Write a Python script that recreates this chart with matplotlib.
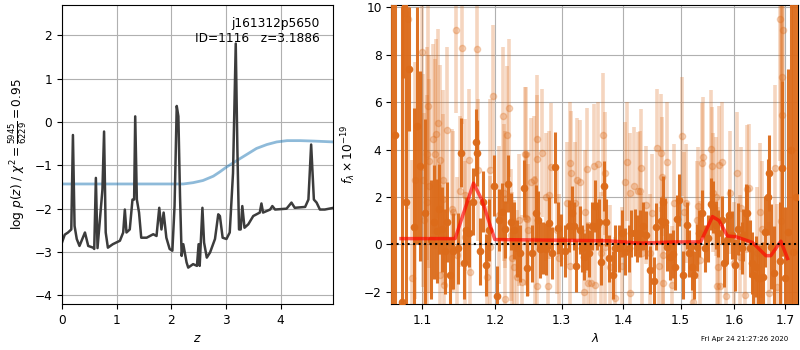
import matplotlib
matplotlib.use("Agg")
import matplotlib.pyplot as plt
import numpy as np
from matplotlib.ticker import FixedLocator, FixedFormatter, NullLocator, NullFormatter

plt.rcParams['font.size'] = 8.7

# ---------------- left panel data ----------------
z_grid = [0.00, 0.05, 0.11, 0.17, 0.20, 0.23, 0.27, 0.32, 0.42, 0.48, 0.57, 0.59, 0.62, 0.65,
          0.74, 0.77, 0.80, 0.84, 0.93, 1.06, 1.12, 1.15, 1.18, 1.24, 1.29, 1.32, 1.34, 1.37,
          1.41, 1.45, 1.55, 1.67, 1.73, 1.78, 1.82, 1.86, 1.91, 1.97, 2.02, 2.06, 2.10, 2.13,
          2.16, 2.19, 2.22, 2.28, 2.31, 2.40, 2.47, 2.50, 2.52, 2.57, 2.60, 2.65, 2.71, 2.80,
          2.86, 2.89, 2.94, 3.01, 3.07, 3.13, 3.18, 3.21, 3.24, 3.27, 3.30, 3.34, 3.41, 3.50,
          3.62, 3.65, 3.68, 3.81, 3.85, 3.90, 4.11, 4.20, 4.26, 4.45, 4.51, 4.56, 4.61, 4.66,
          4.72, 4.81, 4.97]
logpz = [-2.78, -2.60, -2.55, -2.48, -0.30, -2.40, -2.70, -2.86, -2.55, -2.86, -2.90, -2.93, -1.29, -2.91,
         -1.56, -0.22, -2.55, -2.90, -2.82, -2.74, -2.55, -2.02, -2.55, -2.48, -1.79, -1.79, 0.13, -1.79,
         -2.09, -2.67, -2.67, -2.59, -2.63, -1.98, -2.48, -2.09, -2.67, -2.93, -2.97, -1.94, 0.37, 0.13,
         -1.71, -3.09, -2.82, -3.24, -3.36, -3.28, -3.32, -2.82, -3.32, -1.98, -2.78, -3.13, -3.01, -2.70,
         -2.13, -2.17, -2.67, -2.70, -2.55, -1.18, 1.81, -0.64, -2.48, -2.48, -1.94, -2.44, -2.36, -2.17,
         -2.09, -1.88, -2.09, -2.02, -1.94, -2.02, -2.00, -1.86, -1.98, -1.96, -1.79, -0.52, -1.79, -1.86,
         -2.02, -2.02, -1.98]

z_prior = [0.00, 2.22, 2.40, 2.58, 2.77, 2.89, 3.01, 3.20, 3.38, 3.56, 3.75, 3.93, 4.12, 4.36, 4.60, 4.97]
prior = [-1.43, -1.43, -1.40, -1.35, -1.25, -1.15, -1.04, -0.89, -0.75, -0.61, -0.52, -0.46, -0.43, -0.43, -0.44, -0.46]

# ---------------- right panel data ----------------
wave_dark = [1.0601, 1.0644, 1.0730, 1.0751, 1.0785, 1.0830, 1.0895, 1.0934, 1.0969, 1.1035,
             1.1110, 1.1155, 1.1191, 1.1227, 1.1268, 1.1304, 1.1335, 1.1372, 1.1418, 1.1487,
             1.1524, 1.1565, 1.1593, 1.1640, 1.1687, 1.1729, 1.1752, 1.1790, 1.1827, 1.1874,
             1.1917, 1.1989, 1.2037, 1.2066, 1.2110, 1.2153, 1.2197, 1.2231, 1.2280, 1.2319,
             1.2369, 1.2433, 1.2475, 1.2544, 1.2605, 1.2645, 1.2670, 1.2721, 1.2757, 1.2809,
             1.2850, 1.2892, 1.2938, 1.2995, 1.3047, 1.3110, 1.3163, 1.3189, 1.3231, 1.3285,
             1.3323, 1.3360, 1.3403, 1.3440, 1.3483, 1.3537, 1.3564, 1.3602, 1.3635, 1.3673,
             1.3719, 1.3768, 1.3823, 1.3868, 1.3923, 1.3979, 1.4035, 1.4091, 1.4137, 1.4193,
             1.4234, 1.4291, 1.4331, 1.4389, 1.4464, 1.4522, 1.4569, 1.4657, 1.4690, 1.4719,
             1.4761, 1.4808, 1.4856, 1.4898, 1.4940, 1.4976, 1.5048, 1.5108, 1.5157, 1.5199,
             1.5248, 1.5291, 1.5340, 1.5395, 1.5445, 1.5494, 1.5552, 1.5602, 1.5652, 1.5696,
             1.5759, 1.5809, 1.5853, 1.5904, 1.5949, 1.6013, 1.6077, 1.6142, 1.6174, 1.6226,
             1.6252, 1.6304, 1.6337, 1.6369, 1.6424, 1.6457, 1.6503, 1.6556, 1.6602, 1.6649,
             1.6669, 1.6716, 1.6769, 1.6891, 1.6939, 1.7008, 1.7070, 1.7130, 1.7165, 1.7220]
flux_dark = [-5.0, 4.6, -2.45, 12.0, 1.8, 7.4, 0.75, 5.0, 3.3, 1.3,
             0.2, 0.95, 0.55, 1.5, 0.63, -0.3, 0.95, -1.3, -0.27, -0.17,
             3.87, -0.8, 0.6, 0.46, 1.8, 4.3, 3.85, -0.3, 1.8, -0.87,
             0.6, 2.48, -2.2, 1.03, 1.38, 0.63, 2.55, 0.96, 0.6, -0.17,
             -0.38, 2.37, -1.0, -0.38, 1.31, 1.03, -0.21, -0.17, -0.21, 0.89,
             -0.38, 3.25, 0.70, 0.18, -0.27, 0.77, 1.34, 0.77, -0.90, 0.61,
             -0.17, -0.52, -0.10, -0.38, 0.77, 1.62, 0.77, 0.92, -0.73, 2.46,
             0.92, -0.59, -1.30, -0.17, -0.17, 0.46, -0.31, -0.17, 0.46, 0.49,
             0.25, 0.46, 0.77, 0.39, -1.08, -1.54, 0.75, 1.00, 1.80, 0.96,
             -0.13, -0.52, -0.41, -0.94, 1.06, 1.87, -1.30, 0.80, -0.38, -0.94,
             -1.30, -0.13, 0.46, 1.31, -0.17, 0.25, 1.70, 1.59, 0.82, 0.46,
             1.03, -0.80, 0.18, 1.24, 0.39, -0.87, 0.63, -0.17, 0.39, 1.34,
             1.31, -0.17, -0.80, -1.30, -0.94, -1.44, -1.44, -1.39, 0.54, 2.01,
             3.00, -0.10, -1.23, -0.70, 3.21, -1.44, 0.5, 4.0, -0.31, 2.0]
err_dark = [30, 30, 12.5, 5, 15, 2.6, 5, 5, 4, 4,
            2.5, 2.4, 2.2, 1.9, 1.8, 1.8, 1.7, 1.6, 1.6, 1.5,
            1.45, 1.5, 1.4, 1.4, 1.4, 1.4, 1.4, 1.4, 1.3, 1.3,
            1.3, 1.3, 1.3, 1.3, 1.2, 1.2, 1.2, 1.2, 1.2, 1.2,
            1.2, 1.2, 1.2, 1.2, 1.2, 1.2, 1.2, 1.1, 1.1, 1.1,
            1.1, 1.5, 1.1, 1.1, 1.1, 1.1, 1.1, 1.0, 1.1, 1.0,
            1.0, 1.0, 1.0, 1.0, 1.0, 1.1, 1.0, 1.0, 1.0, 1.05,
            1.0, 1.0, 1.0, 1.0, 1.0, 1.0, 1.0, 1.0, 1.0, 1.0,
            1.0, 1.0, 1.0, 1.0, 1.0, 1.0, 1.0, 1.0, 1.1, 1.0,
            1.0, 1.0, 1.0, 1.0, 1.0, 1.1, 1.0, 1.0, 1.0, 1.0,
            1.0, 1.0, 1.0, 1.0, 1.0, 1.0, 1.1, 1.1, 1.0, 1.0,
            1.0, 1.0, 1.0, 1.1, 1.0, 1.1, 1.1, 1.1, 1.1, 1.2,
            1.2, 1.2, 1.3, 1.3, 1.3, 1.4, 1.4, 1.5, 1.5, 1.6,
            1.6, 1.8, 2.0, 2.5, 3.7, 3.0, 6.9, 20, 20, 20]

wave_light = [1.0773, 1.0817, 1.0869, 1.0904, 1.1000, 1.1013, 1.1015, 1.1057, 1.1060, 1.1080,
              1.1085, 1.1093, 1.1146, 1.1168, 1.1182, 1.1214, 1.1236, 1.1240, 1.1272, 1.1281,
              1.1285, 1.1335, 1.1395, 1.1418, 1.1450, 1.1464, 1.1510, 1.1542, 1.1579, 1.1582,
              1.1636, 1.1649, 1.1752, 1.1766, 1.1884, 1.1931, 1.1935, 1.1979, 1.2066, 1.2124,
              1.2126, 1.2148, 1.2150, 1.2172, 1.2211, 1.2236, 1.2246, 1.2280, 1.2319, 1.2359,
              1.2393, 1.2438, 1.2458, 1.2459, 1.2469, 1.2494, 1.2534, 1.2570, 1.2595, 1.2618,
              1.2620, 1.2625, 1.2706, 1.2757, 1.2789, 1.2809, 1.2840, 1.2928, 1.2954, 1.3084,
              1.3126, 1.3130, 1.3152, 1.3215, 1.3242, 1.3295, 1.3349, 1.3365, 1.3403, 1.3419,
              1.3473, 1.3521, 1.3537, 1.3581, 1.3635, 1.3657, 1.3701, 1.3705, 1.3784, 1.3868,
              1.3979, 1.4024, 1.4064, 1.4120, 1.4122, 1.4176, 1.4252, 1.4291, 1.4309, 1.4312,
              1.4389, 1.4464, 1.4493, 1.4581, 1.4610, 1.4657, 1.4663, 1.4680, 1.4690, 1.4761,
              1.4838, 1.4880, 1.5018, 1.5060, 1.5096, 1.5217, 1.5291, 1.5321, 1.5352, 1.5383,
              1.5414, 1.5552, 1.5570, 1.5602, 1.5652, 1.5664, 1.5696, 1.5714, 1.5716, 1.5759,
              1.5841, 1.5917, 1.5993, 1.6058, 1.6109, 1.6122, 1.6207, 1.6252, 1.6291, 1.6437,
              1.6490, 1.6536, 1.6669, 1.6803, 1.6837, 1.6905, 1.6920, 1.6939, 1.6940, 1.6959]
flux_light = [9.76, 9.5, -1.44, 2.7, 8.1, 2.7, 1.03, 3.82, 1.8, 5.85,
              2.46, 3.5, 4.44, 3.8, 4.65, 5.1, 3.56, -1.3, 2.7, 1.9,
              -1.72, 4.83, 1.48, 1.38, 9.06, -0.45, 2.23, 8.28, 2.08, 0.3,
              3.54, -1.15, 8.24, 3.14, -1.37, 3.14, -0.1, 6.24, 1.24, 5.42,
              2.18, 1.9, -2.3, 4.62, 5.75, 0.39, -0.59, -0.94, -1.37, 1.03,
              -1.58, 3.82, 1.1, 3.82, 1.06, 0.61, 2.65, 2.72, 0.18, -1.76,
              4.44, 3.6, 3.85, 2.01, -1.76, 2.08, 3.28, 0.61, -0.59, 1.73,
              3.42, -0.9, 3.03, 1.73, 2.72, 2.65, -2.0, 1.38, 3.17, -1.65,
              -1.65, 3.32, -1.72, 3.39, -0.38, 4.62, 3.0, -0.1, -0.94, -2.28,
              -0.92, 2.65, 3.49, 2.18, -2.07, 2.46, 2.23, 2.27, 3.21, -0.38,
              1.66, -0.38, 1.31, 4.06, -0.92, 3.85, 2.86, -1.65, -0.45, 3.49,
              -1.72, 1.73, 4.55, 1.38, 1.73, -2.42, 1.03, 1.62, -0.66, 3.45,
              3.7, 4.01, 3.31, 2.18, 2.01, -1.76, -0.94, 3.35, -1.76, 3.49,
              -2.18, 2.18, -0.8, 3.0, -0.52, 1.52, -2.14, 2.32, 2.37, -0.38,
              1.38, 0.63, -2.07, 3.21, -1.79, 9.5, 1.0, 7.06, 5.46, 9.06]
err_light = [8, 8, 5, 5, 5, 4.5, 4.5, 4.5, 4.5, 4.5,
             4.5, 4.5, 4, 4, 4, 4, 4, 3.8, 3.8, 3.6,
             3.7, 3.5, 3.4, 3.4, 3.5, 3.3, 3.2, 3.2, 3.2, 3.2,
             3.0, 3.1, 3.0, 3.0, 3.0, 3.0, 3.0, 3.0, 2.9, 2.9,
             2.9, 2.9, 2.9, 2.9, 2.9, 2.8, 2.8, 2.8, 2.8, 2.8,
             2.8, 2.8, 2.8, 2.8, 2.8, 2.8, 2.7, 2.7, 2.7, 2.7,
             2.7, 2.7, 2.7, 2.7, 2.7, 2.7, 2.7, 2.7, 2.7, 2.6,
             2.6, 2.6, 2.6, 2.6, 2.6, 2.6, 2.6, 2.6, 2.6, 2.6,
             2.6, 2.6, 2.6, 2.6, 2.6, 2.6, 2.6, 2.6, 2.6, 2.6,
             2.5, 2.5, 2.5, 2.5, 2.5, 2.5, 2.5, 2.5, 2.5, 2.5,
             2.5, 2.5, 2.5, 2.5, 2.5, 2.5, 2.5, 2.5, 2.5, 2.5,
             2.5, 2.5, 2.5, 2.5, 2.5, 2.5, 2.5, 2.5, 2.5, 2.5,
             2.5, 2.5, 2.5, 2.5, 2.5, 2.5, 2.5, 2.5, 2.5, 2.5,
             2.5, 2.6, 2.6, 2.6, 2.6, 2.6, 2.7, 2.7, 2.7, 2.8,
             2.9, 2.9, 3.0, 3.5, 3.5, 6, 12, 6, 6, 6]

wave_model = [1.0722, 1.1441, 1.1696, 1.1815, 1.2000, 1.3730, 1.4295, 1.4880, 1.5365, 1.5583,
              1.5707, 1.5866, 1.6025, 1.6350, 1.6615, 1.6714, 1.6917, 1.7053]
flux_model = [0.24, 0.24, 2.58, 1.87, 0.20, 0.15, 0.05, 0.10, 0.10, 1.17,
              1.00, 0.35, 0.32, 0.08, -0.48, -0.48, 0.13, -0.60]

xticks_r = [1.1, 1.2, 1.3, 1.4, 1.5, 1.6, 1.7]
yticks_r = [-2, 0, 2, 4, 6, 8, 10]

# ---------------- figure ----------------
fig = plt.figure(figsize=(8, 3.5), dpi=100)
ax1 = fig.add_axes([62/800, 46/350, 271/800, 299/350])
ax2 = fig.add_axes([391.3/800, 46/350, 407/800, 299/350])

ax1.plot(z_prior, prior, color='#1f77b4', alpha=0.5, lw=2)
ax1.plot(z_grid, logpz, color='#3c3c3c', lw=1.8)
ax1.set_xlim(0, 4.96)
ax1.set_ylim(-4.2, 2.7)
ax1.set_xticks([0, 1, 2, 3, 4])
ax1.set_yticks([-4, -3, -2, -1, 0, 1, 2])
ax1.grid(True)
ax1.set_xlabel(r'$z$')
ax1.set_ylabel(r'log $p(z)$ / $\chi^2=\frac{5945}{6229}=0.95$')
ax1.text(0.95, 0.96, 'j161312p5650\nID=1116   z=3.1886', transform=ax1.transAxes,
         ha='right', va='top', fontsize=8.7)

col = '#dc6b1a'
ax2.errorbar(wave_light, flux_light, yerr=err_light, fmt='o', color=col, alpha=0.28,
             ms=4.5, elinewidth=2.6, capsize=0, zorder=2)
ax2.errorbar(wave_dark, flux_dark, yerr=err_dark, fmt='o', color=col, alpha=0.95,
             ms=4.5, elinewidth=2.2, capsize=0, zorder=3)
ax2.plot(wave_model, flux_model, color='red', alpha=0.65, lw=2.5, zorder=4)
ax2.axhline(0, color='k', ls=':', lw=1.5, zorder=5)
ax2.set_xscale('log')
ax2.set_xlim(1.0597, 1.7275)
ax2.set_ylim(-2.52, 10.1)
ax2.xaxis.set_major_locator(FixedLocator(xticks_r))
ax2.xaxis.set_major_formatter(FixedFormatter([f'{v:.1f}' for v in xticks_r]))
ax2.xaxis.set_minor_locator(NullLocator())
ax2.xaxis.set_minor_formatter(NullFormatter())
ax2.set_yticks(yticks_r)
ax2.grid(True)
ax2.set_xlabel(r'$\lambda$')
ax2.set_ylabel(r'$f_\lambda \times 10^{-19}$')

fig.text(0.985, 0.0306, 'Fri Apr 24 21:27:26 2020', ha='right', va='center', fontsize=5)

fig.savefig('out.png', dpi=100)
